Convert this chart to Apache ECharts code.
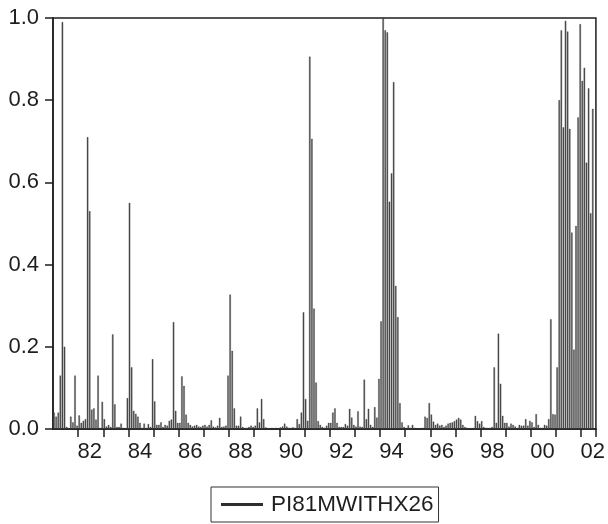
<!DOCTYPE html>
<html>
<head>
<meta charset="utf-8">
<script src="https://cdn.jsdelivr.net/npm/echarts@6/dist/echarts.min.js"></script>
<style>
html,body{margin:0;padding:0;background:#fff;}
#chart{width:608px;height:524px;}
</style>
</head>
<body>
<div id="chart"></div>
<script>
// Monthly observations, 1981M01 .. 2002M07 (last month not available)
const firstYear = 1981;
const lastYear = 2002;
const seriesName = 'PI81MWITHX26';
const yTicks = [0.0, 0.2, 0.4, 0.6, 0.8, 1.0];

const v1981 = [0.04,0.03,0.04,0.13,0.99,0.20,0.005,0.002,0.03,0.016,0.13,0.008];
const v1982 = [0.033,0.015,0.02,0.024,0.71,0.53,0.047,0.05,0.023,0.13,0.003,0.066];
const v1983 = [0.024,0.006,0.01,0.005,0.23,0.06,0.005,0.005,0.013,0.003,0.002,0.075];
const v1984 = [0.55,0.15,0.044,0.037,0.03,0.015,0.003,0.013,0.003,0.012,0.005,0.17];
const v1985 = [0.067,0.01,0.01,0.016,0.005,0.01,0.008,0.02,0.023,0.26,0.044,0.015];
const v1986 = [0.015,0.128,0.105,0.035,0.015,0.01,0.006,0.008,0.01,0.006,0.005,0.008];
const v1987 = [0.01,0.006,0.01,0.021,0.006,0.004,0.008,0.027,0.005,0.006,0.008,0.13];
const v1988 = [0.327,0.19,0.05,0.008,0.008,0.03,0.005,0.003,0.003,0.005,0.008,0.005];
const v1989 = [0.008,0.05,0.016,0.073,0.024,0.004,0.002,0.002,0.003,0.002,0.003,0.002];
const v1990 = [0.004,0.006,0.013,0.006,0.003,0.003,0.004,0.003,0.024,0.012,0.04,0.284];
const v1991 = [0.073,0.02,0.906,0.706,0.293,0.113,0.019,0.01,0.005,0.003,0.008,0.015];
const v1992 = [0.015,0.04,0.05,0.015,0.005,0.005,0.005,0.012,0.008,0.049,0.028,0.01];
const v1993 = [0.006,0.043,0.006,0.005,0.12,0.024,0.049,0.01,0.005,0.053,0.028,0.122];
const v1994 = [0.262,1.0,0.97,0.965,0.553,0.622,0.844,0.348,0.272,0.063,0.016,0.005];
const v1995 = [0.003,0.009,0.003,0.01,0.003,0.002,0.002,0.002,0.003,0.03,0.027,0.063];
const v1996 = [0.035,0.018,0.01,0.013,0.008,0.01,0.005,0.008,0.013,0.015,0.016,0.019];
const v1997 = [0.023,0.027,0.023,0.01,0.005,0.003,0.002,0.002,0.003,0.032,0.019,0.013];
const v1998 = [0.019,0.005,0.003,0.003,0.003,0.005,0.15,0.015,0.232,0.11,0.032,0.015];
const v1999 = [0.015,0.006,0.013,0.01,0.006,0.003,0.01,0.008,0.008,0.024,0.008,0.02];
const v2000 = [0.016,0.005,0.036,0.01,0.003,0.003,0.01,0.008,0.024,0.267,0.036,0.035];
const v2001 = [0.15,0.80,0.97,0.734,0.993,0.967,0.73,0.478,0.193,0.494,0.758,0.985];
const v2002 = [0.847,0.879,0.648,0.829,0.525,0.779,null];

const yearly = [v1981,v1982,v1983,v1984,v1985,v1986,v1987,v1988,v1989,v1990,v1991,
  v1992,v1993,v1994,v1995,v1996,v1997,v1998,v1999,v2000,v2001,v2002];

const categories = [];
const values = [];
yearly.forEach((arr, k) => {
  arr.forEach((v, m) => {
    categories.push((firstYear + k) + 'M' + String(m + 1).padStart(2, '0'));
    values.push(v);
  });
});

const FONT = "'Liberation Sans', Arial, Helvetica, sans-serif";
const INK = '#1e1e1e';

const chart = echarts.init(document.getElementById('chart'), null, {renderer: 'canvas'});
chart.setOption({
  animation: false,
  backgroundColor: '#ffffff',
  grid: {
    left: 53, right: 8, top: 18, bottom: 95,
    show: true, borderColor: INK, borderWidth: 1.5, backgroundColor: 'transparent'
  },
  legend: {
    data: [{name: seriesName, icon: 'rect', itemStyle: {color: '#333'}}],
    left: 211, top: 487,
    padding: [6, 5, 6, 10],
    itemWidth: 40, itemHeight: 1,
    borderColor: '#333', borderWidth: 1,
    textStyle: {fontFamily: FONT, fontSize: 22.5, color: INK, padding: [0, 0, 0, 4]}
  },
  xAxis: {
    type: 'category',
    data: categories,
    boundaryGap: true,
    axisLine: {show: true, lineStyle: {color: INK, width: 1.5}},
    axisTick: {
      show: true, inside: false, length: 8,
      lineStyle: {color: INK, width: 1.5},
      interval: (index) => index % 12 === 0 && index > 0
    },
    axisLabel: {
      show: true, margin: 12,
      fontFamily: FONT, fontSize: 22, color: INK,
      interval: (index, value) => {
        const y = parseInt(value.slice(0, 4), 10);
        return value.slice(5) === '06' && y % 2 === 0;
      },
      formatter: (value) => value.slice(2, 4)
    },
    splitLine: {show: false}
  },
  yAxis: {
    type: 'value',
    min: 0, max: 1, interval: 0.2,
    axisLine: {show: true, lineStyle: {color: INK, width: 1.5}},
    axisTick: {show: true, inside: false, length: 8, lineStyle: {color: INK, width: 1.5}},
    axisLabel: {
      margin: 14, fontFamily: FONT, fontSize: 22, color: INK,
      formatter: (v) => {
        const t = yTicks.find(x => Math.abs(x - v) < 1e-9);
        return (t !== undefined ? t : v).toFixed(1);
      }
    },
    splitLine: {show: false}
  },
  series: [{
    name: seriesName,
    type: 'bar',
    data: values,
    barWidth: '70%',
    itemStyle: {color: '#505050', borderColor: '#2e2e2e', borderWidth: 0.3},
    emphasis: {disabled: true}
  }]
});
</script>
</body>
</html>
